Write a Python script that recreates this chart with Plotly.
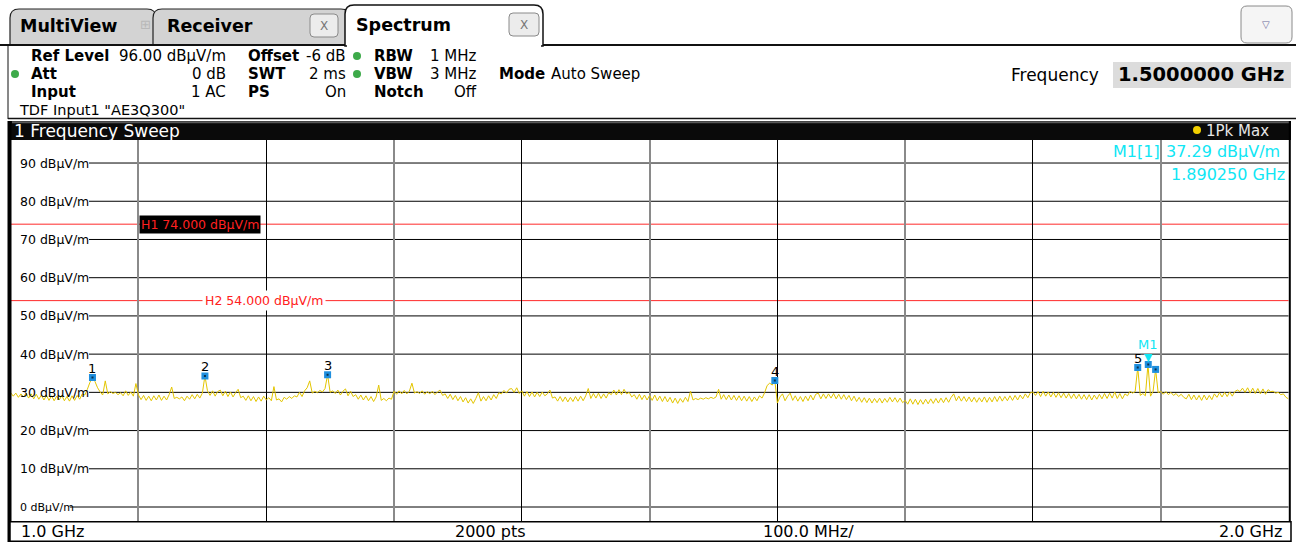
import numpy as np
import plotly.graph_objects as go

# ---------------- data ----------------
sweep_start_ghz = 1.0
sweep_stop_ghz = 2.0

# trace levels (dBµV/m), one row per 100 MHz division (2 MHz steps)
trace_levels = [
    29.9, 29.0, 29.8, 28.7, 29.6, 28.8, 29.8, 28.5, 29.6, 28.3,
    29.5, 28.2, 29.3, 28.0, 29.2, 27.9, 29.1, 27.8, 29.0, 28.0,
    29.2, 27.8, 28.9, 27.7, 29.1, 27.9, 29.2, 28.2, 29.6, 29.3,
    30.8, 32.6, 33.9, 32.8, 31.2, 30.1, 29.3, 33.0, 29.6, 30.2,
    29.7, 30.0, 29.4, 29.9, 29.1, 30.4, 29.2, 30.1, 29.0, 32.3,

    29.3, 28.1, 29.2, 27.9, 29.0, 27.8, 29.1, 28.0, 29.3, 27.9,
    29.0, 28.0, 29.4, 31.4, 28.4, 28.7, 28.3, 28.8, 27.8, 29.0,
    28.2, 29.4, 28.3, 29.5, 28.5, 29.8, 34.3, 30.4, 29.2, 30.4,
    29.0, 30.2, 30.6, 29.1, 30.3, 28.9, 30.1, 28.8, 29.9, 30.8,
    28.6, 29.0, 27.9, 29.1, 27.8, 28.9, 27.6, 28.8, 27.7, 29.0,

    28.0, 28.6, 27.8, 31.5, 28.0, 28.3, 27.5, 28.7, 28.2, 28.9,
    28.4, 29.1, 28.8, 30.0, 28.9, 30.4, 31.2, 33.0, 29.8, 30.3,
    29.9, 30.5, 30.1, 31.0, 34.6, 30.0, 30.4, 29.7, 30.6, 29.3,
    30.3, 30.9, 29.1, 30.3, 28.9, 29.4, 28.2, 29.3, 28.0, 29.1,
    27.8, 28.9, 27.6, 28.8, 31.9, 27.9, 28.4, 27.8, 28.5, 28.2,

    30.3, 29.5, 30.4, 29.6, 30.5, 29.6, 30.3, 32.4, 29.8, 30.2,
    29.7, 30.4, 29.5, 30.2, 29.6, 30.3, 29.4, 30.1, 30.6, 29.2,
    29.6, 28.4, 29.5, 28.1, 29.2, 27.8, 28.9, 27.5, 28.6, 27.2,
    28.3, 27.1, 28.4, 29.9, 27.7, 28.9, 27.8, 29.1, 28.0, 29.4,
    28.4, 29.9, 29.6, 30.5, 29.8, 30.8, 31.0, 30.0, 31.2, 29.7,

    30.4, 29.0, 30.2, 28.9, 30.1, 28.8, 30.0, 28.9, 30.1, 29.1,
    29.6, 30.6, 28.5, 28.8, 27.7, 28.9, 27.6, 28.8, 27.5, 28.7,
    27.6, 28.9, 27.7, 29.0, 27.8, 29.1, 31.0, 28.4, 29.7, 28.5,
    29.8, 28.4, 29.6, 28.5, 29.9, 29.4, 30.6, 29.3, 30.7, 29.4,
    30.8, 29.6, 30.0, 28.8, 29.4, 28.2, 29.5, 28.1, 29.3, 28.0,

    29.2, 27.9, 29.3, 27.8, 29.0, 27.6, 28.9, 27.5, 28.7, 27.2,
    28.5, 27.1, 28.4, 27.4, 28.7, 27.6, 30.3, 28.0, 28.4, 28.1,
    28.5, 28.2, 28.6, 28.3, 28.7, 28.4, 28.8, 30.8, 28.2, 29.4,
    28.1, 29.3, 28.0, 29.2, 27.9, 29.1, 27.8, 29.0, 27.7, 28.9,
    27.6, 28.8, 27.8, 29.1, 28.5, 29.9, 31.8, 32.4, 31.9, 33.1,

    27.2, 28.8, 29.6, 27.8, 29.0, 29.8, 27.9, 29.1, 27.7, 28.9,
    27.6, 29.0, 27.8, 29.3, 28.0, 29.5, 29.8, 28.3, 29.6, 28.4,
    29.6, 28.5, 29.7, 28.3, 29.5, 28.2, 29.4, 28.1, 29.2, 27.8,
    29.0, 27.6, 28.7, 27.4, 28.6, 27.3, 28.5, 27.2, 28.4, 27.3,
    28.5, 27.2, 28.4, 27.4, 28.7, 27.5, 28.6, 27.4, 28.5, 27.3,

    27.9, 26.9, 28.3, 26.9, 28.2, 26.8, 28.1, 26.9, 28.2, 27.0,
    28.3, 27.1, 28.4, 27.2, 28.5, 27.3, 28.6, 27.4, 28.7, 29.6,
    27.8, 29.0, 27.7, 28.9, 27.6, 28.8, 27.5, 28.7, 27.4, 28.6,
    27.5, 28.8, 27.4, 28.7, 27.5, 28.9, 27.6, 29.0, 27.7, 28.9,
    27.8, 29.1, 27.9, 29.2, 28.0, 29.3, 28.3, 29.6, 28.6, 29.9,

    30.1, 29.2, 30.2, 28.9, 30.3, 29.0, 30.1, 28.8, 30.0, 28.7,
    29.9, 28.6, 29.8, 28.5, 29.7, 28.4, 29.6, 28.3, 29.5, 28.2,
    29.4, 28.1, 29.4, 28.0, 29.3, 28.2, 29.5, 28.3, 29.7, 28.4,
    29.8, 28.5, 30.1, 28.4, 29.7, 28.3, 29.6, 29.1, 30.3, 29.8,
    30.2, 36.5, 29.2, 29.7, 29.1, 37.29, 29.0, 30.2, 36.0, 29.9,

    30.3, 29.5, 30.2, 29.4, 30.0, 29.2, 29.7, 28.9, 29.5, 28.7,
    28.3, 29.5, 28.1, 29.3, 28.0, 29.2, 27.9, 29.3, 28.0, 29.2,
    28.1, 29.6, 28.7, 29.9, 28.8, 30.0, 28.9, 30.1, 29.0, 30.2,
    30.6, 30.2, 31.1, 30.0, 31.2, 29.8, 31.1, 29.7, 31.0, 29.6,
    30.9, 29.5, 30.7, 30.2, 30.3, 29.8, 30.0, 29.4, 29.6, 28.7, 28.3,
]

peak_freqs_ghz = [1.064, 1.152, 1.248, 1.598, 1.882, 1.896]
peak_levels = [33.9, 34.3, 34.6, 33.1, 36.5, 36.0]
peak_labels = ["1", "2", "3", "4", "5", ""]

m1_name = "M1"
m1_freq_ghz = 1.89025
m1_level = 37.29

y_tick_values = [0, 10, 20, 30, 40, 50, 60, 70, 80, 90]
y_unit = "dBµV/m"

limit_names = ["H1", "H2"]
limit_levels = [74.0, 54.0]

ref_level = 96.0
y_bottom = -4.0

# ---------------- geometry helpers ----------------
W, H = 1306, 543
FONT = "DejaVu Sans"


def px(x):
    return x / W


def py(y):
    return 1 - y / H


X_LEFT, X_RIGHT = 10.7, 1288.5
Y_BOTTOM, Y_TOP = 522.3, 140.1

freqs = np.linspace(sweep_start_ghz, sweep_stop_ghz, len(trace_levels))

fig = go.Figure()

fig.add_trace(go.Scatter(
    x=freqs, y=trace_levels, mode="lines",
    line=dict(color="#e3c500", width=1, simplify=False),
    hoverinfo="skip", showlegend=False))

all_mf = peak_freqs_ghz + [m1_freq_ghz]
all_ml = peak_levels + [m1_level]
fig.add_trace(go.Scatter(
    x=all_mf, y=all_ml, mode="markers",
    marker=dict(symbol="square", size=7, color="#1f8fde", line=dict(width=0)),
    hoverinfo="skip", showlegend=False))
fig.add_trace(go.Scatter(
    x=all_mf, y=all_ml, mode="markers",
    marker=dict(symbol="square", size=2, color="#08304f", line=dict(width=0)),
    hoverinfo="skip", showlegend=False))

shapes = []
ann = []


def rect(x0, y0, x1, y1, fill=None, line=None, lw=1, layer="above"):
    shapes.append(dict(type="rect", xref="paper", yref="paper",
                       x0=px(x0), x1=px(x1), y0=py(y1), y1=py(y0),
                       fillcolor=fill if fill else "rgba(0,0,0,0)",
                       line=dict(color=line if line else "rgba(0,0,0,0)", width=lw if line else 0),
                       layer=layer))


def hline(x0, x1, y, color="black", lw=1):
    shapes.append(dict(type="line", xref="paper", yref="paper",
                       x0=px(x0), x1=px(x1), y0=py(y), y1=py(y),
                       line=dict(color=color, width=lw)))


def vline(x, y0, y1, color="black", lw=1):
    shapes.append(dict(type="line", xref="paper", yref="paper",
                       x0=px(x), x1=px(x), y0=py(y0), y1=py(y1),
                       line=dict(color=color, width=lw)))


def circle(cx, cy, r, color):
    shapes.append(dict(type="circle", xref="paper", yref="paper",
                       x0=px(cx - r), x1=px(cx + r), y0=py(cy + r), y1=py(cy - r),
                       fillcolor=color, line=dict(width=0)))


def rpath(x0, y0, x1, y1, r, fill, line, lw=1.2, bottom_open=True):
    p = (f"M {px(x0)},{py(y1)} L {px(x0)},{py(y0 + r)} "
         f"Q {px(x0)},{py(y0)} {px(x0 + r)},{py(y0)} "
         f"L {px(x1 - r)},{py(y0)} Q {px(x1)},{py(y0)} {px(x1)},{py(y0 + r)} "
         f"L {px(x1)},{py(y1)}")
    if not bottom_open:
        p = (f"M {px(x0)},{py(y1 - r)} L {px(x0)},{py(y0 + r)} "
             f"Q {px(x0)},{py(y0)} {px(x0 + r)},{py(y0)} "
             f"L {px(x1 - r)},{py(y0)} Q {px(x1)},{py(y0)} {px(x1)},{py(y0 + r)} "
             f"L {px(x1)},{py(y1 - r)} Q {px(x1)},{py(y1)} {px(x1 - r)},{py(y1)} "
             f"L {px(x0 + r)},{py(y1)} Q {px(x0)},{py(y1)} {px(x0)},{py(y1 - r)} Z")
    else:
        p += " Z"
    shapes.append(dict(type="path", xref="paper", yref="paper", path=p,
                       fillcolor=fill, line=dict(color=line, width=lw)))


def txt(s, x, y, size=15, color="black", bold=False, anchor="left", bg=None, pad=0):
    ann.append(dict(text=f"<b>{s}</b>" if bold else s, x=px(x), y=py(y),
                    xref="paper", yref="paper", xanchor=anchor, yanchor="middle",
                    showarrow=False, bgcolor=bg, borderpad=pad,
                    font=dict(family=FONT, size=size, color=color)))


# ---------------- tabs ----------------
rpath(10, 9, 156, 45, 9, "#d3d3d3", "#222222")
rpath(153, 9, 350, 45, 9, "#d3d3d3", "#222222")
hline(0, 1296, 45, "#111111", 2)
rpath(345, 5, 543, 46, 9, "#ffffff", "#111111", 1.5)
rect(347, 43, 541, 48, fill="#ffffff")
txt("MultiView", 19, 26, 17.5, bold=True)
txt("⊞", 145, 25, 13, color="#b8b8b8", anchor="center")
txt("Receiver", 166, 26, 17.5, bold=True)
txt("Spectrum", 355, 25, 17.5, bold=True)
rpath(310, 14, 338, 37, 4, "#ececec", "#8a8a8a", 1, bottom_open=False)
txt("X", 324, 25.5, 12, color="#777777", anchor="center")
rpath(509, 13, 539, 36, 4, "#ececec", "#8a8a8a", 1, bottom_open=False)
txt("X", 524, 24.5, 12, color="#777777", anchor="center")
rpath(1241, 6, 1292, 43, 6, "#f5f5f5", "#8a8a8a", 1, bottom_open=False)
txt("▽", 1266, 24, 10, color="#6a6a9a", anchor="center")

# ---------------- info panel ----------------
vline(8, 45, 119, "#111111", 1)
hline(8, 1296, 118.5, "#111111", 1.5)
r1, r2, r3, r4 = 56, 74, 92, 110
for s, x, y in [("Ref Level", 30, r1), ("Att", 30, r2), ("Input", 30, r3),
                ("Offset", 247, r1), ("SWT", 247, r2), ("PS", 247, r3),
                ("RBW", 373, r1), ("VBW", 373, r2), ("Notch", 373, r3),
                ("Mode", 498, r2)]:
    txt(s, x, y, 15, bold=True)
for s, x, y in [("96.00 dBµV/m", 227, r1), ("0 dB", 227, r2), ("1 AC", 227, r3),
                ("-6 dB", 347, r1), ("2 ms", 347, r2), ("On", 347, r3),
                ("1 MHz", 478, r1), ("3 MHz", 478, r2), ("Off", 478, r3)]:
    txt(s, x, y, 15, anchor="right")
txt("Auto Sweep", 550, r2, 15)
txt('TDF Input1 "AE3Q300"', 18, r4, 14.5)
circle(15, r2, 4, "#3daa4a")
circle(357, r1, 4, "#3daa4a")
circle(357, r2, 4, "#3daa4a")
txt("Frequency", 1010, 75, 17)
rect(1113, 62, 1291, 88, fill="#dcdcdc")
txt("1.5000000 GHz", 1117, 75, 19.5, bold=True)

# ---------------- diagram frame ----------------
rect(10, 121, 1291, 140, fill="#0a0a0a")
hline(12, 1289, 122.2, "#5a5a5a", 2)
txt("1 Frequency Sweep", 13, 130.5, 17, color="#ffffff")
circle(1197, 130, 4, "#f2d000")
txt("1Pk Max", 1205, 130.5, 15, color="#e6e6e6")
rect(7.5, 121, 11.5, 542, fill="#000000")
vline(1289.8, 121, 542, "#000000", 2)
rect(10, 521.8, 1291, 541.2, fill="#ffffff", line="#000000", lw=1.5)
txt("1.0 GHz", 20, 531, 16)
txt("2000 pts", 490, 531, 16, anchor="center")
txt("100.0 MHz/", 808, 531, 16, anchor="center")
txt("2.0 GHz", 1283, 531, 16, anchor="right")

# ---------------- horizontal grid + labels ----------------
for v in y_tick_values:
    start = 70 if v == 0 else 89
    shapes.append(dict(type="line", xref="paper", yref="y", x0=px(start), x1=px(X_RIGHT),
                       y0=v, y1=v, line=dict(color="#000000", width=1), layer="between"))
    ann.append(dict(text=f"{v} {y_unit}", x=px(18), y=v, xref="paper", yref="y",
                    xanchor="left", yanchor="middle", showarrow=False,
                    font=dict(family=FONT, size=11 if v == 0 else 12.5, color="black")))

# ---------------- limit lines ----------------
for name, lvl in zip(limit_names, limit_levels):
    shapes.append(dict(type="line", xref="paper", yref="y", x0=px(X_LEFT), x1=px(X_RIGHT),
                       y0=lvl, y1=lvl, line=dict(color="#ff2a2a", width=1), layer="between"))
ann.append(dict(text=f"{limit_names[0]} {limit_levels[0]:.3f} {y_unit}", x=px(139), y=limit_levels[0],
                xref="paper", yref="y", xanchor="left", yanchor="middle", showarrow=False,
                bgcolor="#000000", borderpad=1,
                font=dict(family=FONT, size=12.5, color="#ff2020")))
ann.append(dict(text=f"{limit_names[1]} {limit_levels[1]:.3f} {y_unit}", x=px(264), y=limit_levels[1],
                xref="paper", yref="y", xanchor="center", yanchor="middle", showarrow=False,
                bgcolor="#ffffff", borderpad=2,
                font=dict(family=FONT, size=12.5, color="#ff2020")))

# ---------------- markers ----------------
for f, l, t in zip(peak_freqs_ghz, peak_levels, peak_labels):
    if t:
        ann.append(dict(text=t, x=f, y=l, xref="x", yref="y", yshift=9, showarrow=False,
                        xanchor="center", yanchor="middle",
                        font=dict(family=FONT, size=13, color="#000000")))
CYAN = "#10e6f4"
ann.append(dict(text="▼", x=m1_freq_ghz, y=m1_level, xref="x", yref="y", yshift=7,
                showarrow=False, xanchor="center", yanchor="middle",
                font=dict(family=FONT, size=11, color=CYAN)))
ann.append(dict(text=m1_name, x=m1_freq_ghz, y=m1_level, xref="x", yref="y", yshift=20,
                showarrow=False, xanchor="center", yanchor="middle",
                font=dict(family=FONT, size=13, color=CYAN)))
txt(f"{m1_name}[1]", 1161, 152, 16, color=CYAN, anchor="right")
txt(f"{m1_level:.2f} {y_unit}", 1165, 152, 16, color=CYAN)
txt(f"{m1_freq_ghz:.6f} GHz", 1286, 175, 16, color=CYAN, anchor="right")

fig.update_layout(
    width=W, height=H, autosize=False,
    margin=dict(l=0, r=0, t=0, b=0, pad=0),
    paper_bgcolor="#ffffff", plot_bgcolor="#ffffff",
    showlegend=False,
    xaxis=dict(range=[sweep_start_ghz, sweep_stop_ghz], domain=[px(X_LEFT), px(X_RIGHT)],
               showticklabels=False, ticks="", showline=False, zeroline=False,
               showgrid=True, gridcolor="#000000", gridwidth=1, tick0=1.0, dtick=0.2,
               minor=dict(tick0=1.0, dtick=0.1, showgrid=True, gridcolor="#8a8a8a",
                          gridwidth=2, ticks=""),
               fixedrange=True),
    yaxis=dict(range=[y_bottom, ref_level], domain=[1 - Y_BOTTOM / H, 1 - Y_TOP / H],
               showticklabels=False, ticks="", showline=False, zeroline=False,
               showgrid=False, fixedrange=True),
    shapes=shapes, annotations=ann,
)

fig.write_html("out.html", config={"displayModeBar": False},
               post_script="document.body.style.margin='0';document.body.style.overflow='hidden';")
